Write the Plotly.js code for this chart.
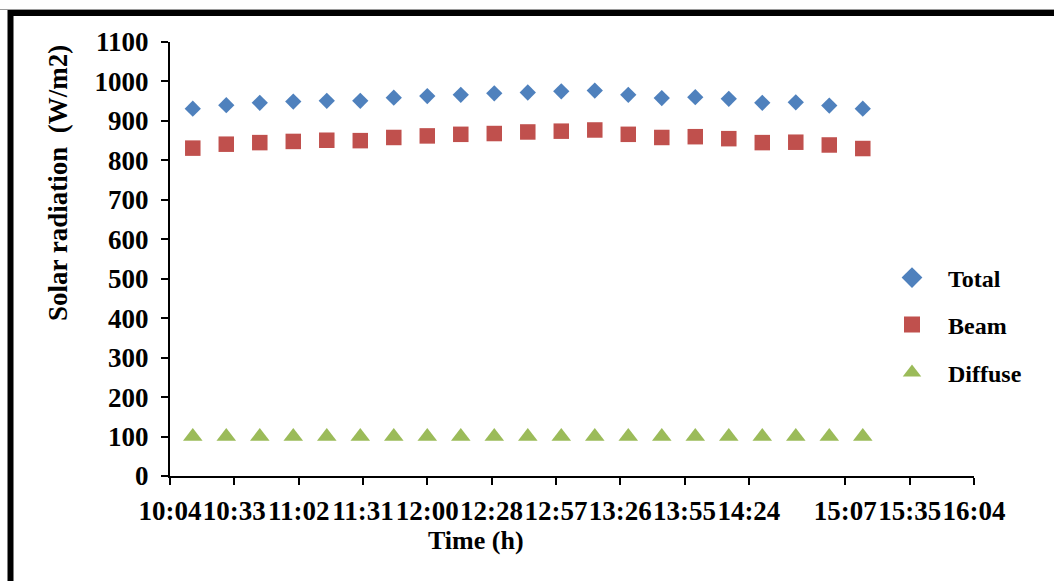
<!DOCTYPE html>
<html>
<head>
<meta charset="utf-8">
<script src="https://cdn.plot.ly/plotly-3.0.1.min.js"></script>
<style>
  html, body { margin: 0; padding: 0; background: #fff; }
  #chart { width: 1054px; height: 581px; }
</style>
</head>
<body>
<div id="chart"></div>
<script>
// ---- data ----
var times = ["10:15","10:30","10:45","11:00","11:15","11:30","11:45","12:00","12:15","12:30","12:45",
             "13:00","13:15","13:30","13:45","14:00","14:15","14:30","14:45","15:00","15:15"];
var totalValues   = [931, 940, 946, 949, 951, 951, 959, 963, 966, 970, 972, 975, 977, 966, 958, 960, 956, 946, 947, 939, 931];
var beamValues    = [831, 841, 845, 848, 851, 850, 858, 862, 866, 868, 872, 874, 877, 866, 858, 860, 855, 845, 846, 839, 830];
var diffuseValues = [100, 100, 100, 100, 100, 100, 100, 100, 100, 100, 100, 100, 100, 100, 100, 100, 100, 100, 100, 100, 100];
var tickTimes  = ["10:04:48","10:33:36","11:02:24","11:31:12","12:00:00","12:28:48","12:57:36","13:26:24","13:55:12","14:24:00","15:07:12","15:36:00","16:04:48"];
var tickLabels = ["10:04","10:33","11:02","11:31","12:00","12:28","12:57","13:26","13:55","14:24","15:07","15:35","16:04"];
var seriesNames = ["Total", "Beam", "Diffuse"];

function toMin(s) {
  var p = s.split(":").map(Number);
  return p[0] * 60 + p[1] + (p[2] || 0) / 60;
}
var xs = times.map(toMin);
var tickVals = tickTimes.map(toMin);

var FONT = "'Liberation Serif', 'Times New Roman', serif";
var colors = ["#4F81BD", "#C0504D", "#9BBB59"];
var symbols = ["diamond", "square", "triangle-up"];
var sizes = [12.5, 15.5, 17];
var legendSizes = [16, 16, 16];
var values = [totalValues, beamValues, diffuseValues];
var legendIds = ["legend", "legend2", "legend3"];

var traces = [];
for (var i = 0; i < 3; i++) {
  traces.push({
    type: "scatter", mode: "markers", x: xs, y: values[i], name: seriesNames[i],
    showlegend: false,
    marker: { color: colors[i], symbol: symbols[i], size: sizes[i], line: { width: 0 } },
    hoverinfo: "x+y+name"
  });
}
for (var j = 0; j < 3; j++) {
  traces.push({
    type: "scatter", mode: "markers", x: [null], y: [null], name: seriesNames[j],
    legend: legendIds[j], showlegend: true,
    marker: { color: colors[j], symbol: symbols[j], size: legendSizes[j], line: { width: 0 } }
  });
}

var L = 170, R = 80, T = 42, B = 105;
var W = 1054 - L - R, H = 581 - T - B;
function px(xp) { return (xp - L) / W; }
function py(yp) { return (581 - B - yp) / H; }

function legendAt(yp) {
  return {
    x: px(876), y: py(yp), xanchor: "left", yanchor: "middle",
    bgcolor: "rgba(0,0,0,0)", borderwidth: 0, itemwidth: 62,
    font: { family: FONT, size: 24, color: "#000", weight: "bold" }
  };
}

var layout = {
  width: 1054, height: 581,
  margin: { l: L, r: R, t: T, b: B },
  paper_bgcolor: "#fff", plot_bgcolor: "#fff",
  font: { family: FONT, color: "#000" },
  xaxis: {
    range: [toMin("10:04:48"), toMin("16:04:48")],
    tickmode: "array", tickvals: tickVals, ticktext: tickLabels, tickangle: 0,
    showgrid: false, zeroline: false, showline: true, linecolor: "#000", linewidth: 2,
    ticks: "outside", ticklen: 7, tickwidth: 2, tickcolor: "#000",
    ticklabelstandoff: 3,
    tickfont: { family: FONT, size: 27, color: "#000", weight: "bold" }
  },
  yaxis: {
    range: [0, 1100], dtick: 100, tick0: 0,
    showgrid: false, zeroline: false, showline: true, linecolor: "#000", linewidth: 2,
    ticks: "outside", ticklen: 7, tickwidth: 2, tickcolor: "#000",
    ticklabelstandoff: 7,
    tickfont: { family: FONT, size: 27, color: "#000", weight: "bold" }
  },
  legend: legendAt(278),
  legend2: legendAt(325),
  legend3: legendAt(373),
  annotations: [
    { text: "Time (h)", xref: "paper", yref: "paper", x: px(476), y: py(540),
      xanchor: "center", yanchor: "middle", showarrow: false,
      font: { family: FONT, size: 26, color: "#000", weight: "bold" } },
    { text: "Solar radiation\u00a0 (W/m2)", xref: "paper", yref: "paper", x: px(58), y: py(183),
      xanchor: "center", yanchor: "middle", showarrow: false, textangle: -90,
      font: { family: FONT, size: 27, color: "#000", weight: "bold" } }
  ],
  shapes: [
    { type: "line", xref: "paper", yref: "paper", x0: px(0), x1: px(1060), y0: py(9.5), y1: py(9.5),
      line: { color: "#9a9a9a", width: 1 } },
    { type: "path", xref: "paper", yref: "paper",
      path: "M " + px(10.5) + " " + py(600) + " L " + px(10.5) + " " + py(13) + " L " + px(1070) + " " + py(13),
      line: { color: "#000", width: 6 } }
  ],
  showlegend: true
};

Plotly.newPlot("chart", traces, layout, { displayModeBar: false, staticPlot: true });
</script>
</body>
</html>
